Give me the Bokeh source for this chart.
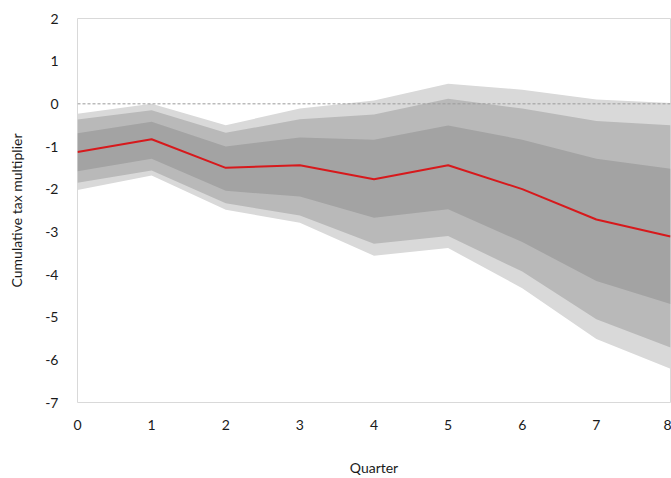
from bokeh.plotting import figure
from bokeh.models import Range1d, Span, FixedTicker
from bokeh.embed import file_html
from bokeh.resources import INLINE

quarters = [0, 1, 2, 3, 4, 5, 6, 7, 8]
median = [-1.13, -0.83, -1.50, -1.44, -1.77, -1.44, -2.00, -2.71, -3.11]
band95_hi = [-0.23, 0.00, -0.50, -0.11, 0.08, 0.47, 0.33, 0.10, 0.02]
band90_hi = [-0.37, -0.15, -0.68, -0.36, -0.25, 0.12, -0.11, -0.40, -0.50]
band68_hi = [-0.69, -0.42, -1.00, -0.79, -0.84, -0.51, -0.84, -1.29, -1.52]
band68_lo = [-1.58, -1.29, -2.04, -2.17, -2.67, -2.47, -3.24, -4.15, -4.69]
band90_lo = [-1.85, -1.56, -2.33, -2.62, -3.28, -3.10, -3.93, -5.05, -5.71]
band95_lo = [-2.02, -1.68, -2.48, -2.79, -3.56, -3.38, -4.32, -5.51, -6.21]
x_ticks = [0, 1, 2, 3, 4, 5, 6, 7, 8]
y_ticks = [2, 1, 0, -1, -2, -3, -4, -5, -6, -7]

FONT = "Lato"

p = figure(width=671, height=478, output_backend="svg", toolbar_location=None,
           x_range=Range1d(0, 8), y_range=Range1d(-7, 2),
           min_border_left=77, min_border_right=1, min_border_top=18, min_border_bottom=72)

p.varea(x=quarters, y1=band95_lo, y2=band95_hi, fill_color="#d9d9d9")
p.varea(x=quarters, y1=band90_lo, y2=band90_hi, fill_color="#b9b9b9")
p.varea(x=quarters, y1=band68_lo, y2=band68_hi, fill_color="#a3a3a3")
p.line(x=quarters, y=median, line_color="#d7191c", line_width=2)

p.add_layout(Span(location=0, dimension="width", line_color="#9a9a9a",
                  line_dash="3 2", line_width=1))

p.outline_line_color = "#d9d9d9"
p.outline_line_width = 1
p.xgrid.visible = False
p.ygrid.visible = False

for ax in (p.xaxis[0], p.yaxis[0]):
    ax.axis_line_color = None
    ax.major_tick_line_color = None
    ax.minor_tick_line_color = None
    ax.major_label_text_font = FONT
    ax.major_label_text_font_size = "14px"
    ax.major_label_text_color = "#1a1a1a"
    ax.axis_label_text_font = FONT
    ax.axis_label_text_font_size = "14px"
    ax.axis_label_text_font_style = "normal"
    ax.axis_label_text_color = "#1a1a1a"

p.xaxis.ticker = FixedTicker(ticks=x_ticks)
p.yaxis.ticker = FixedTicker(ticks=y_ticks)
p.xaxis.major_label_overrides = {t: str(t) for t in x_ticks}
p.yaxis.major_label_overrides = {t: str(t) for t in y_ticks}
p.xaxis.axis_label = "Quarter"
p.yaxis.axis_label = "Cumulative tax multiplier"
p.xaxis.major_label_standoff = 11
p.xaxis.axis_label_standoff = 26
p.yaxis.major_label_standoff = 13
p.yaxis.axis_label_standoff = 17

open("out.html", "w").write(file_html(p, INLINE))
